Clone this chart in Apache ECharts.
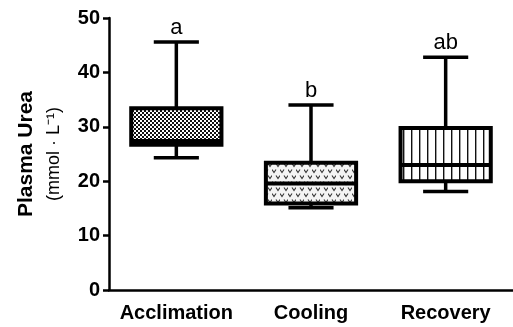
<!DOCTYPE html>
<html>
<head>
<meta charset="utf-8">
<style>
  html, body { margin: 0; padding: 0; background: #fff; }
  #chart { width: 513px; height: 327px; }
</style>
<script src="https://cdn.jsdelivr.net/npm/echarts@6/dist/echarts.min.js"></script>
</head>
<body>
<div id="chart"></div>
<script>
// groups on the x axis
const groups = ['Acclimation', 'Cooling', 'Recovery']
// [min, Q1, median, Q3, max] per group, mmol · L-1
const boxStats = [
  [24.3, 26.7, 27.4, 33.4, 45.6],
  [15.1, 15.9, 19.6, 23.4, 34.0],
  [18.1, 20.0, 23.0, 29.8, 42.8],
]
// significance letters above each whisker
const sigLetters = ['a', 'b', 'ab']
const yTicks = [0, 10, 20, 30, 40, 50]

const FONT = 'Liberation Sans, Arial, sans-serif'

function makePattern(w, h, draw) {
  const c = document.createElement('canvas')
  c.width = w
  c.height = h
  const ctx = c.getContext('2d')
  draw(ctx)
  return c
}

// fine checker for Acclimation
const checker = makePattern(4, 4, (ctx) => {
  ctx.fillStyle = '#111'
  ctx.fillRect(0, 0, 4, 4)
  ctx.fillStyle = '#fff'
  ctx.fillRect(0, 0, 2, 2)
  ctx.fillRect(2, 2, 2, 2)
})

// little "v" marks for Cooling
const vmarks = makePattern(8, 12, (ctx) => {
  ctx.fillStyle = '#f4f4f4'
  ctx.fillRect(0, 0, 8, 12)
  ctx.strokeStyle = '#333'
  ctx.lineWidth = 1.1
  const v = (x, y) => {
    ctx.beginPath()
    ctx.moveTo(x - 2, y - 1.5)
    ctx.lineTo(x, y + 1.5)
    ctx.lineTo(x + 2, y - 1.5)
    ctx.stroke()
  }
  v(2, 3)
  v(6, 9)
})

// vertical lines for Recovery
const vlines = makePattern(8, 8, (ctx) => {
  ctx.fillStyle = '#fff'
  ctx.fillRect(0, 0, 8, 8)
  ctx.fillStyle = '#111'
  ctx.fillRect(3, 0, 1.4, 8)
})

const fills = [checker, vmarks, vlines]

const chart = echarts.init(document.getElementById('chart'), null, { renderer: 'canvas' })

const boxLine = 4
const whiskerLine = 3.5

chart.setOption({
  animation: false,
  backgroundColor: '#fff',
  grid: { left: 109, right: -4, top: 18, bottom: 37 },
  xAxis: {
    type: 'category',
    data: groups,
    axisLine: { lineStyle: { color: '#000', width: 2.5 } },
    axisTick: { alignWithLabel: true, length: 7, lineStyle: { color: '#000', width: 2.5 } },
    axisLabel: {
      interval: 0,
      color: '#000', fontFamily: FONT, fontWeight: 'bold', fontSize: 20, margin: 13,
    },
  },
  yAxis: {
    type: 'value',
    min: 0,
    max: 50,
    interval: 10,
    splitLine: { show: false },
    axisLine: { show: true, lineStyle: { color: '#000', width: 2.5 } },
    axisTick: { show: true, length: 6, lineStyle: { color: '#000', width: 2.5 } },
    axisLabel: {
      color: '#000', fontFamily: FONT, fontWeight: 'bold', fontSize: 20, margin: 9,
      formatter: (v) => (yTicks.includes(v) ? String(v) : ''),
    },
    name: '{a|Plasma Urea}\n{b|(mmol · L⁻¹)}',
    nameLocation: 'middle',
    nameRotate: 90,
    nameGap: 41,
    nameTextStyle: {
      rich: {
        a: { fontFamily: FONT, fontWeight: 'bold', fontSize: 21, color: '#000', lineHeight: 28 },
        b: { fontFamily: FONT, fontSize: 18, color: '#000', lineHeight: 28 },
      },
    },
  },
  series: [
    {
      type: 'custom',
      data: boxStats.map((s, i) => [i, ...s]),
      renderItem: (params, api) => {
        const cat = api.value(0)
        const vals = [1, 2, 3, 4, 5].map((d) => api.value(d))
        const x = api.coord([cat, 0])[0]
        const ys = vals.map((v) => api.coord([cat, v])[1])
        const [yMin, yQ1, yMed, yQ3, yMax] = ys
        const boxW = api.size([1, 0])[0] * 0.67
        const capW = boxW / 2
        const lineStyle = { stroke: '#000', lineWidth: whiskerLine, fill: null }
        const idx = params.dataIndex
        return {
          type: 'group',
          children: [
            { type: 'line', shape: { x1: x, y1: yQ3, x2: x, y2: yMax }, style: lineStyle },
            { type: 'line', shape: { x1: x - capW / 2, y1: yMax, x2: x + capW / 2, y2: yMax }, style: lineStyle },
            { type: 'line', shape: { x1: x, y1: yQ1, x2: x, y2: yMin }, style: lineStyle },
            { type: 'line', shape: { x1: x - capW / 2, y1: yMin, x2: x + capW / 2, y2: yMin }, style: lineStyle },
            {
              type: 'rect',
              shape: { x: x - boxW / 2, y: yQ3, width: boxW, height: yQ1 - yQ3 },
              style: {
                fill: { image: fills[idx], repeat: 'repeat' },
                stroke: '#000',
                lineWidth: boxLine,
              },
            },
            { type: 'line', shape: { x1: x - boxW / 2, y1: yMed, x2: x + boxW / 2, y2: yMed }, style: { stroke: '#000', lineWidth: boxLine } },
            {
              type: 'text',
              x: x,
              y: yMax - 3,
              style: {
                text: sigLetters[idx],
                fill: '#000',
                font: '22px ' + FONT,
                align: 'center',
                verticalAlign: 'bottom',
              },
            },
          ],
        }
      },
    },
  ],
})
</script>
</body>
</html>
